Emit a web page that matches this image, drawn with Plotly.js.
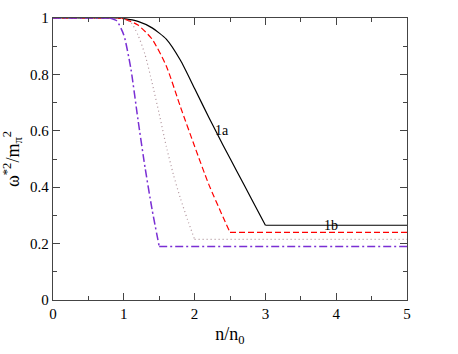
<!DOCTYPE html>
<html>
<head>
<meta charset="utf-8">
<script src="https://cdn.plot.ly/plotly-3.0.1.min.js"></script>
<style>html,body{margin:0;padding:0;background:#fff}#plot{width:458px;height:354px}</style>
</head>
<body>
<div id="plot"></div>
<script>
// Curve 1a (black solid)
const x1a = [0, 0.9, 1.0, 1.2, 1.4, 1.6, 1.8, 2.0, 2.2, 2.4, 2.6, 2.8, 3.0, 5.0];
const y1a = [1, 1, 0.998, 0.988, 0.965, 0.925, 0.85, 0.75, 0.648, 0.55, 0.455, 0.36, 0.265, 0.265];
// Red dashed
const xRed = [0, 0.9, 1.0, 1.2, 1.4, 1.6, 1.8, 2.0, 2.2, 2.4, 2.5, 5.0];
const yRed = [1, 1, 0.997, 0.975, 0.925, 0.83, 0.685, 0.545, 0.41, 0.295, 0.24, 0.24];
// Grey dotted
const xGrey = [0, 0.9, 1.0, 1.1, 1.2, 1.3, 1.4, 1.5, 1.6, 1.7, 1.8, 1.9, 2.0, 5.0];
const yGrey = [1, 1, 0.997, 0.985, 0.94, 0.87, 0.77, 0.66, 0.545, 0.445, 0.36, 0.285, 0.215, 0.215];
// Violet dash-dot
const xViolet = [0, 0.8, 0.9, 1.0, 1.1, 1.2, 1.3, 1.4, 1.5, 5.0];
const yViolet = [1, 1, 0.99, 0.94, 0.82, 0.64, 0.47, 0.32, 0.19, 0.19];
// Labels
const labelText = ['1a', '1b'];
const labelX = [2.39, 3.93];
const labelY = [0.60, 0.265];

const serif = 'Liberation Serif';

const series = [
  {x: x1a, y: y1a, line: {color: '#000000', width: 1.2}},
  {x: xRed, y: yRed, line: {color: '#ff0000', width: 1.2, dash: '6px,3px'}},
  {x: xGrey, y: yGrey, line: {color: '#b0949c', width: 1.2, dash: '1px,3px'}},
  {x: xViolet, y: yViolet, line: {color: '#7a2fd4', width: 1.5, dash: '8px,3px,2px,3px'}}
];

const traces = [];
series.forEach(s => {
  const n = s.x.length;
  // leading plateau (straight)
  traces.push({x: s.x.slice(0, 2), y: s.y.slice(0, 2), mode: 'lines', line: s.line});
  // falling part (smooth)
  traces.push({x: s.x.slice(1, n - 1), y: s.y.slice(1, n - 1), mode: 'lines',
    line: Object.assign({}, s.line, {shape: 'spline', smoothing: 0.6})});
  // trailing plateau (straight)
  traces.push({x: s.x.slice(n - 2), y: s.y.slice(n - 2), mode: 'lines', line: s.line});
});

const axisCommon = {
  showgrid: false, zeroline: false, showline: true, mirror: 'allticks',
  linecolor: '#444', linewidth: 1.2, ticks: 'inside', ticklen: 7, tickwidth: 1, tickcolor: '#444',
  tickfont: {family: serif, size: 15, color: '#000'}
};

const layout = {
  width: 458, height: 354,
  margin: {l: 53, r: 51, t: 18, b: 54},
  paper_bgcolor: '#fff', plot_bgcolor: '#fff',
  showlegend: false,
  font: {family: serif},
  xaxis: Object.assign({}, axisCommon, {
    range: [0, 5], dtick: 1, tick0: 0,
    minor: {ticks: 'inside', dtick: 0.5, ticklen: 4, tickcolor: '#444'},
    title: {text: 'n/n<sub>0</sub>', font: {family: serif, size: 18, color: '#000'}, standoff: 6}
  }),
  yaxis: Object.assign({}, axisCommon, {
    range: [0, 1], dtick: 0.2, tick0: 0,
    minor: {ticks: 'inside', dtick: 0.1, ticklen: 4, tickcolor: '#444'},
    title: {text: 'ω<sup>*2</sup>/m<sub>π</sub><sup>2</sup>', font: {family: serif, size: 18, color: '#000'}, standoff: 6}
  }),
  annotations: labelText.map((t, i) => ({
    x: labelX[i], y: labelY[i], xref: 'x', yref: 'y', text: t, showarrow: false,
    font: {family: serif, size: 14, color: '#000'}
  }))
};

Plotly.newPlot('plot', traces, layout, {displayModeBar: false, staticPlot: true});
</script>
</body>
</html>
